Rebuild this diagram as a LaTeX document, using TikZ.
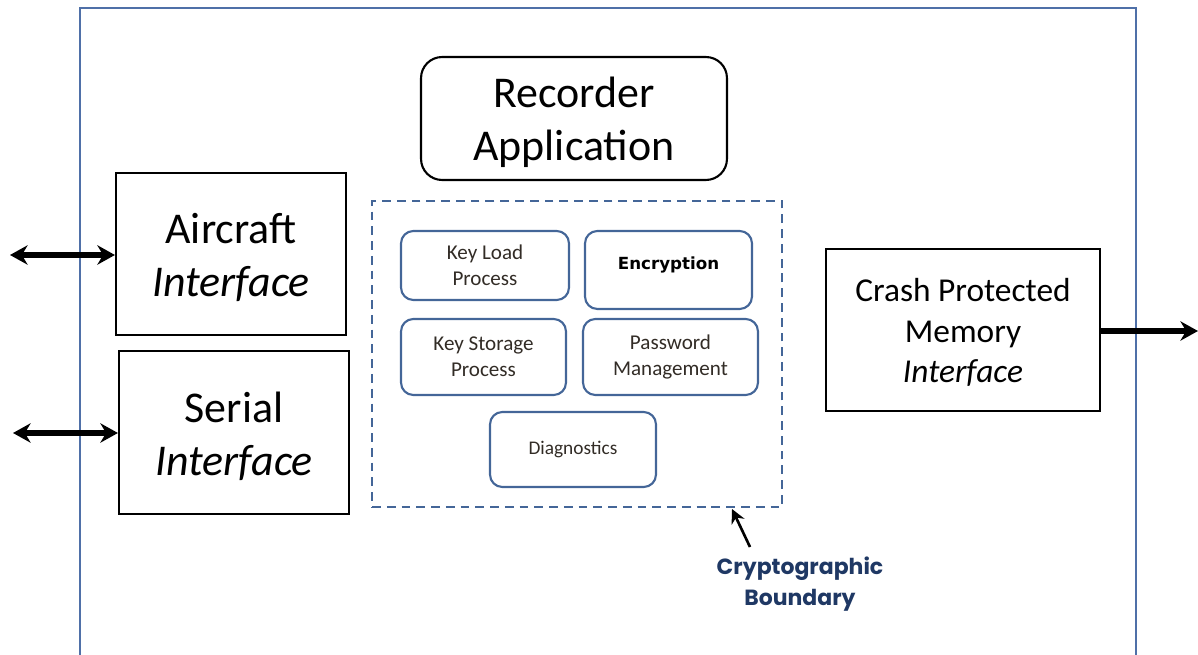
\documentclass[tikz,border=0pt]{standalone}
\usepackage{fontspec}
\setmainfont{Carlito}
\newfontfamily\boundfont{Poppins}
\newfontfamily\encfont{DejaVu Sans}
\usetikzlibrary{arrows.meta,positioning}
\definecolor{frameblue}{RGB}{79,112,168}
\definecolor{boxblue}{RGB}{68,102,152}
\definecolor{labelblue}{RGB}{31,56,100}
\definecolor{boxtext}{RGB}{50,44,38}

\begin{document}
\begin{tikzpicture}
	[
		x=0.02cm, y=-0.02cm,
		B/.style = {rectangle, align=center, draw=black, line width=1.2pt, text height=48.5pt, text depth=0pt, font=\fontsize{25}{30}\selectfont},
		R/.style = {rectangle, rounded corners=12pt, align=center, draw=black, line width=1.2pt, text height=48pt, text depth=0pt, font=\fontsize{25}{30}\selectfont},
		S/.style = {rectangle, rounded corners=7pt, align=center, draw=boxblue, line width=1.2pt, text=boxtext, font=\fontsize{12}{15}\selectfont},
		io/.style = {line width=3pt, {Stealth[length=10pt,width=11pt]}-{Stealth[length=10pt,width=11pt]}},
		oneway/.style = {line width=3pt, -{Stealth[length=10pt,width=11pt]}},
	]
	\useasboundingbox (0,0) rectangle (1198,655);

	% outer frame
	\draw[frameblue, line width=1.1pt] (80,670) -- (80,8) -- (1136,8) -- (1136,670);

	% application and interfaces
	\node[R, minimum width=6.12cm, minimum height=2.46cm] (rec) 	at ( 574, 118.5 ) {Recorder\\Application};
	\node[B, minimum width=4.60cm, minimum height=3.24cm] (air) 	at ( 231, 254 ) {Aircraft\\\textit{Interface}};
	\node[B, minimum width=4.60cm, minimum height=3.26cm] (ser) 	at ( 234, 432.5 ) {Serial\\\textit{Interface}};
	\node[B, minimum width=5.48cm, minimum height=3.24cm, text height=60pt, font=\fontsize{19}{23}\selectfont] (cpm) 	at ( 963, 330 ) {Crash Protected\\Memory\\\textit{Interface}};

	% cryptographic boundary
	\node[rectangle, draw=boxblue, line width=1.3pt, dash pattern=on 5pt off 3.4pt, minimum width=8.2cm, minimum height=6.12cm] (cb) 	at ( 577, 354 ) {};
	\node[S, minimum width=3.36cm, minimum height=1.38cm] (klp) 	at ( 485, 265.5 ) {Key Load\\Process};
	\node[S, minimum width=3.34cm, minimum height=1.56cm, text=black, text depth=8pt, font=\encfont\bfseries\fontsize{9.5}{12}\selectfont] (enc) 	at ( 668.5, 270 ) {Encryption};
	\node[S, minimum width=3.30cm, minimum height=1.52cm] (ksp) 	at ( 483.5, 357 ) {Key Storage\\Process};
	\node[S, minimum width=3.50cm, minimum height=1.52cm] (pwm) 	at ( 670.5, 357 ) {Password\\Management};
	\node[S, minimum width=3.32cm, minimum height=1.50cm, font=\fontsize{11}{14}\selectfont] (dia) 	at ( 573, 449.5 ) {Diagnostics};

	\node[align=center, text=labelblue, font=\boundfont\bfseries\fontsize{12.5}{17.5}\selectfont] (cbl) 	at ( 800, 584 ) {Cryptographic\\Boundary};
	\coordinate (cbt) 	at ( 732, 509 );
	\draw[line width=1.5pt, -{Stealth[length=8pt,width=8pt]}] (750,547) -- (cbt);

	% links
	\coordinate (aw) 	at ( 10, 255 );
	\coordinate (sw) 	at ( 13, 433 );
	\coordinate (ce) 	at ( 1198, 331 );
	\foreach \from/\to in {aw/air,sw/ser}
	\draw[io] (\from) -- (\from -| \to.west);
	\draw[oneway] (cpm.east |- ce) -- (ce);

	\end{tikzpicture}
\end{document}
